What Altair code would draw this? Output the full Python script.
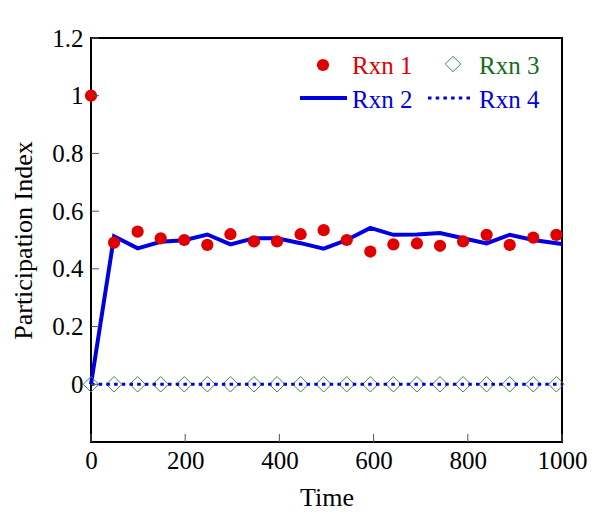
import altair as alt
import pandas as pd

# ---- data ----
times = [0, 49, 99, 148, 198, 247, 296, 346, 395, 445, 494, 543, 593, 642,
         692, 741, 790, 840, 889, 939, 988]
rxn1 = [1.0, 0.491, 0.529, 0.506, 0.500, 0.483, 0.520, 0.495, 0.495, 0.520,
        0.534, 0.500, 0.460, 0.485, 0.488, 0.480, 0.495, 0.518, 0.483, 0.508, 0.518]
rxn2_times = times + [1000]
rxn2 = [0.0, 0.513, 0.471, 0.494, 0.499, 0.519, 0.485, 0.506, 0.506, 0.489,
        0.470, 0.500, 0.542, 0.518, 0.519, 0.524, 0.506, 0.488, 0.518, 0.500,
        0.489, 0.486]
rxn3 = [0.0] * len(times)
rxn4_times = times + [1000]
rxn4 = [0.0] * len(rxn4_times)

x_ticks = [0, 200, 400, 600, 800, 1000]
y_ticks = [0, 0.2, 0.4, 0.6, 0.8, 1.0, 1.2]

RED = "#e00000"
BLUE = "#0000e0"
GREEN_TXT = "#1a6b1a"
GREEN_MK = "#3d8a4f"
FONT = "Liberation Serif"

W, H = 471, 404

df1 = pd.DataFrame({"t": times, "v": rxn1})
df2 = pd.DataFrame({"t": rxn2_times, "v": rxn2})
df3 = pd.DataFrame({"t": times, "v": rxn3})
df4 = pd.DataFrame({"t": rxn4_times, "v": rxn4})

xs = alt.Scale(domain=[0, 1000], nice=False, zero=False)
ys = alt.Scale(domain=[-0.2, 1.2], nice=False, zero=False)

X = alt.X("t:Q", scale=xs,
          axis=alt.Axis(values=x_ticks, title="Time", format="d",
                        labelPadding=6, labelFlush=False, titleBaseline="alphabetic",
                        titleX=W / 2, titleY=63))
Y = alt.Y("v:Q", scale=ys,
          axis=alt.Axis(values=y_ticks, title="Participation Index", format=".1~f",
                        labelPadding=8, labelFlush=False, titleAngle=-90,
                        titleBaseline="middle", titleX=-68, titleY=H / 2))

line2 = alt.Chart(df2).mark_line(color=BLUE, strokeWidth=4).encode(x=X, y=Y)
pts1 = alt.Chart(df1).mark_point(shape="circle", filled=True, color=RED,
                                 size=150, opacity=1).encode(x="t:Q", y="v:Q")
pts3 = alt.Chart(df3).mark_point(shape="diamond", filled=False, color=GREEN_MK,
                                 size=240, strokeWidth=1, opacity=1).encode(x="t:Q", y="v:Q")
line4 = alt.Chart(df4).mark_line(color=BLUE, strokeWidth=3,
                                 strokeDash=[3.5, 4.2]).encode(x="t:Q", y="v:Q")

# inward ticks
xt = alt.Chart(pd.DataFrame({"t": x_ticks})).mark_rule(color="#555", strokeWidth=1).encode(
    x="t:Q", y=alt.value(H), y2=alt.value(H - 8))
yt = alt.Chart(pd.DataFrame({"v": y_ticks})).mark_rule(color="#555", strokeWidth=1).encode(
    y="v:Q", x=alt.value(0), x2=alt.value(8))

# legend
one = pd.DataFrame({"a": [0]})
def txt(label, color, x, y):
    return alt.Chart(one).mark_text(text=label, font=FONT, fontSize=25, color=color,
                                    align="left", baseline="alphabetic").encode(
        x=alt.value(x), y=alt.value(y))

leg = [
    alt.Chart(one).mark_point(shape="circle", filled=True, color=RED, size=150,
                              opacity=1).encode(x=alt.value(232), y=alt.value(27)),
    txt("Rxn 1", RED, 261, 36),
    alt.Chart(one).mark_point(shape="diamond", filled=False, color=GREEN_MK, size=240,
                              strokeWidth=1, opacity=1).encode(x=alt.value(362), y=alt.value(26)),
    txt("Rxn 3", GREEN_TXT, 388, 36),
    alt.Chart(one).mark_rule(color=BLUE, strokeWidth=4).encode(
        x=alt.value(209), x2=alt.value(256), y=alt.value(60)),
    txt("Rxn 2", BLUE, 261, 70),
    alt.Chart(one).mark_rule(color=BLUE, strokeWidth=3, strokeDash=[3.5, 4.2]).encode(
        x=alt.value(337), x2=alt.value(382), y=alt.value(60)),
    txt("Rxn 4", BLUE, 388, 70),
]

chart = alt.layer(line2, pts1, pts3, line4, xt, yt, *leg).properties(
    width=W, height=H,
    autosize=alt.AutoSizeParams(type="none"),
    padding={"left": 83, "top": 30, "right": 30, "bottom": 80},
).configure_view(stroke="black", strokeWidth=2).configure_axis(
    domain=False, ticks=False, grid=False,
    labelFont=FONT, labelFontSize=25, labelColor="black",
    titleFont=FONT, titleFontSize=26, titleColor="black", titleFontWeight="normal",
)

chart.save("out.html", embed_options={"renderer": "svg", "actions": False})
